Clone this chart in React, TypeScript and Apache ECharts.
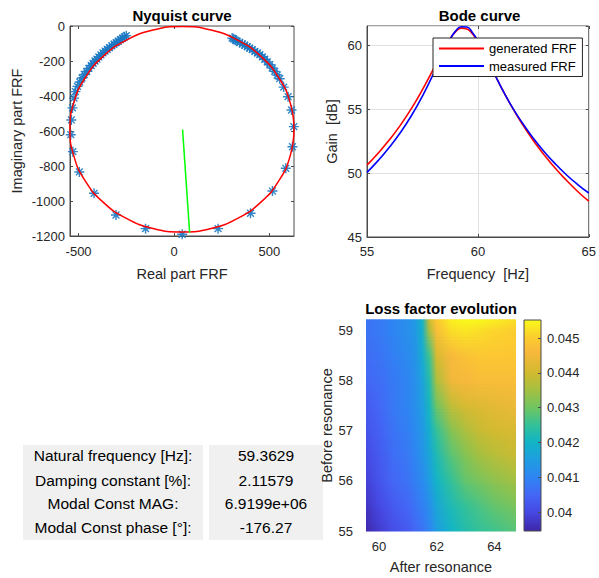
import React, { useEffect, useRef } from "react";
import * as echarts from "echarts";

const FONT = '"Liberation Sans", Arial, Helvetica, sans-serif';
const TXT = "#262626";
const BOX = "#4a4a4a";

// ---------- Nyquist ----------
const circleRe = [629, 609, 550, 457, 336, 194, 42, -110, -252, -373, -466, -525, -545, -525, -466, -373, -252, -110, 42, 194, 336, 457, 550, 609, 629];
const circleIm = [-590, -438, -297, -175, -82, -23, -3, -23, -82, -175, -297, -438, -590, -742, -884, -1005, -1098, -1157, -1177, -1157, -1098, -1005, -884, -742, -590];
const measRe = [-250, -260, -270, -281, -292, -303, -314, -326, -338, -350, -361, -372, -383, -394, -404, -414, -424, -434, -446, -458, -470, -482, -494, -506, -517,
  -524, -532, -538, -541, -530, -496, -419, -304, -149, 43, 231, 401, 516, 586, 621, 628, 616, 598, 575, 554, 541, 528, 515, 502, 489, 476, 463, 450, 437, 424, 410, 397, 384, 371, 358, 345, 330, 323, 312, 305];
const measIm = [-55, -62, -70, -78, -87, -95, -104, -113, -123, -133, -143, -154, -165, -177, -189, -200, -213, -226, -242, -259, -277, -297, -320, -345, -375,
  -412, -468, -537, -621, -718, -834, -956, -1080, -1158, -1190, -1158, -1070, -943, -813, -690, -575, -480, -404, -349, -301, -280, -259, -240, -221, -205, -190, -176, -164, -154, -145, -135, -126, -118, -110, -102, -95, -86, -82, -73, -69];
const radiusRe = [45, 82];
const radiusIm = [-592, -1181];

// ---------- Bode ----------
const freq = [55, 55.5, 56, 56.5, 57, 57.5, 58, 58.5, 58.75, 59, 59.25, 59.5, 59.75, 60, 60.5, 61, 61.5, 62, 62.5, 63, 63.5, 64, 64.5, 65];
const genGain = [50.62, 51.55, 52.58, 53.73, 55.04, 56.52, 58.15, 59.8, 60.51, 61.06, 61.33, 61.27, 60.89, 60.26, 58.62, 56.88, 55.27, 53.83, 52.54, 51.39, 50.35, 49.42, 48.56, 47.8];
const measGain = [50.05, 50.97, 52.0, 53.15, 54.48, 56.02, 57.78, 59.62, 60.47, 61.12, 61.44, 61.42, 61.0, 60.33, 58.64, 56.88, 55.3, 53.93, 52.72, 51.65, 50.7, 49.85, 49.1, 48.44];

// ---------- Loss factor map ----------
const afterX = [59.55, 60, 60.5, 61, 61.25, 61.5, 61.75, 62, 62.5, 63, 63.5, 64, 64.75];
const beforeY = [55, 55.5, 56, 56.5, 57, 57.5, 58, 58.5, 59, 59.21];
const loss55 = [0.0395, 0.0398, 0.0401, 0.0403, 0.0405, 0.0407, 0.041, 0.0415, 0.042, 0.0423, 0.0425, 0.0426, 0.0428];
const loss555 = [0.0397, 0.04, 0.0403, 0.0405, 0.0407, 0.0409, 0.0412, 0.0417, 0.0422, 0.0425, 0.0427, 0.0429, 0.0431];
const loss56 = [0.0399, 0.0402, 0.0405, 0.0407, 0.0409, 0.0411, 0.0415, 0.042, 0.0425, 0.0429, 0.0431, 0.0433, 0.0435];
const loss565 = [0.04, 0.0403, 0.0406, 0.0408, 0.041, 0.0413, 0.0417, 0.0422, 0.0428, 0.0432, 0.0435, 0.0437, 0.0439];
const loss57 = [0.0402, 0.0404, 0.0407, 0.0409, 0.0411, 0.0414, 0.0419, 0.0425, 0.0432, 0.0436, 0.0439, 0.044, 0.0441];
const loss575 = [0.0403, 0.0405, 0.0408, 0.041, 0.0412, 0.0415, 0.0421, 0.043, 0.0438, 0.0441, 0.0442, 0.0443, 0.0444];
const loss58 = [0.0405, 0.0406, 0.0408, 0.041, 0.0412, 0.0416, 0.0423, 0.0436, 0.0445, 0.0446, 0.0447, 0.0447, 0.0447];
const loss585 = [0.0406, 0.0407, 0.0409, 0.0411, 0.0413, 0.0418, 0.0426, 0.0441, 0.0446, 0.0448, 0.0449, 0.0449, 0.0449];
const loss59 = [0.0407, 0.0408, 0.041, 0.0412, 0.0414, 0.0419, 0.0436, 0.0447, 0.0452, 0.0453, 0.0452, 0.0451, 0.045];
const loss5921 = [0.0407, 0.0408, 0.041, 0.0412, 0.0414, 0.042, 0.044, 0.0449, 0.0454, 0.04552, 0.0455, 0.0454, 0.0452];
const lossRows = [loss55, loss555, loss56, loss565, loss57, loss575, loss58, loss585, loss59, loss5921];
const cbMin = 0.03946;
const cbMax = 0.04552;
const cbTicks = [0.04, 0.041, 0.042, 0.043, 0.044, 0.045];

// ---------- table ----------
const tableLabels = ["Natural frequency [Hz]:", "Damping constant [%]:", "Modal Const MAG:", "Modal Const phase [°]:"];
const tableValues = ["59.3629", "2.11579", "6.9199e+06", "-176.27"];

// parula-like colormap
const parulaT = [0, 0.09, 0.17, 0.25, 0.34, 0.42, 0.5, 0.58, 0.67, 0.75, 0.85, 0.92, 1];
const parulaC = ["#3E26A8", "#4648E4", "#4466F6", "#2F84F3", "#1E9EE0", "#12B4C6", "#32C19A", "#6DC564", "#A5C040", "#D2BA30", "#F8B83C", "#FCCE2E", "#F9F91B"];

function hexToRgb(h: string) {
  const n = parseInt(h.slice(1), 16);
  return [(n >> 16) & 255, (n >> 8) & 255, n & 255];
}
function parula(v: number) {
  let t = (v - cbMin) / (cbMax - cbMin);
  t = Math.max(0, Math.min(1, t));
  let i = 0;
  while (i < parulaT.length - 2 && t > parulaT[i + 1]) i++;
  const f = (t - parulaT[i]) / (parulaT[i + 1] - parulaT[i]);
  const a = hexToRgb(parulaC[i]);
  const b = hexToRgb(parulaC[i + 1]);
  const c = a.map((x, k) => Math.round(x + (b[k] - x) * f));
  return `rgb(${c[0]},${c[1]},${c[2]})`;
}

const ASTERISK = "path://M5 0L5 10M0 5L10 5M1.6 1.6L8.4 8.4M1.6 8.4L8.4 1.6";

export default function App() {
  const ref = useRef<HTMLDivElement>(null);
  useEffect(() => {
    if (!ref.current) return;
    const chart = echarts.init(ref.current, undefined, { renderer: "svg" });
    const hxMin = afterX[0];
    const hxMax = afterX[afterX.length - 1];

    const grad = (row: number[]) => ({
      type: "linear", x: 0, y: 0, x2: 1, y2: 0,
      colorStops: afterX.map((cx, i) => ({ offset: (cx - hxMin) / (hxMax - hxMin), color: parula(row[i]) })),
    });

    const renderHeat = (params: any, api: any) => {
      const j = api.value(0);
      const pBL = api.coord([hxMin, beforeY[j]]);
      const pTR = api.coord([hxMax, beforeY[j + 1]]);
      const x = pBL[0];
      const w = pTR[0] - pBL[0];
      const hTot = pBL[1] - pTR[1];
      const K = 8;
      const children: any[] = [];
      for (let k = 0; k < K; k++) {
        const hh = hTot / K;
        const yTop = pBL[1] - hh * (k + 1);
        const shape = { x, y: yTop - 0.4, width: w, height: hh + 0.8 };
        children.push({ type: "rect", shape, style: { fill: grad(lossRows[j]) } });
        children.push({ type: "rect", shape, style: { fill: grad(lossRows[j + 1]), opacity: (k + 0.5) / K } });
      }
      return { type: "group", children };
    };

    const renderBar = (params: any, api: any) => {
      const p0 = api.coord([0, cbMin]);
      const p1 = api.coord([1, cbMax]);
      return {
        type: "rect",
        shape: { x: p0[0], y: p1[1], width: p1[0] - p0[0], height: p0[1] - p1[1] },
        style: {
          fill: {
            type: "linear", x: 0, y: 1, x2: 0, y2: 0,
            colorStops: parulaT.map((t, i) => ({ offset: t, color: parulaC[i] })),
          },
          stroke: BOX,
          lineWidth: 1,
        },
      };
    };

    const label = { fontSize: 13, color: TXT, fontFamily: FONT };
    const nameStyle = { fontSize: 14.5, color: TXT, fontFamily: FONT };
    const line = { show: true, onZero: false, lineStyle: { color: BOX, width: 1 } };
    const noLine = { show: false, onZero: false };
    const tickIn = { show: true, inside: true, length: 3, lineStyle: { color: BOX } };
    const plain = (v: number) => String(v);

    const titles = [
      { text: "Nyquist curve", x: 182, y: 15 },
      { text: "Bode curve", x: 479.5, y: 15 },
      { text: "Loss factor evolution", x: 441, y: 308 },
    ].map((t) => ({
      type: "text", x: t.x, y: t.y,
      style: { text: t.text, fontSize: 15, fontWeight: "bold", fontFamily: FONT, fill: "#000", align: "center", verticalAlign: "middle" },
    }));

    const rowsY = [455.5, 480, 503.5, 527.5];
    const table: any[] = [
      { type: "rect", shape: { x: 23, y: 445, width: 180, height: 95 }, style: { fill: "#f0f0f0" } },
      { type: "rect", shape: { x: 209, y: 445, width: 114, height: 95 }, style: { fill: "#f0f0f0" } },
    ];
    tableLabels.forEach((s, i) => {
      table.push({ type: "text", x: 113, y: rowsY[i], style: { text: s, fontSize: 15.5, fontFamily: FONT, fill: "#000", align: "center", verticalAlign: "middle" } });
      table.push({ type: "text", x: 266, y: rowsY[i], style: { text: tableValues[i], fontSize: 15.5, fontFamily: FONT, fill: "#000", align: "center", verticalAlign: "middle" } });
    });

    chart.setOption({
      animation: false,
      backgroundColor: "#ffffff",
      textStyle: { fontFamily: FONT },
      grid: [
        { left: 70, top: 26, width: 224, height: 210, show: true, borderColor: BOX, borderWidth: 1, backgroundColor: "transparent" },
        { left: 367, top: 26, width: 225, height: 211, show: true, borderColor: BOX, borderWidth: 1, backgroundColor: "transparent" },
        { left: 366, top: 320, width: 150, height: 211 },
        { left: 524, top: 320, width: 17, height: 211 },
      ],
      xAxis: [
        {
          type: "value", gridIndex: 0, min: -545, max: 629,
          axisLine: line, axisTick: { ...tickIn, customValues: [-500, 0, 500] },
          axisLabel: { ...label, margin: 9, customValues: [-500, 0, 500], formatter: plain },
          splitLine: { show: false },
          name: "Real part FRF", nameLocation: "middle", nameGap: 30, nameTextStyle: nameStyle,
        },
        {
          type: "value", gridIndex: 0, position: "top", min: -545, max: 629,
          axisLine: noLine, axisTick: { ...tickIn, customValues: [-500, 0, 500] },
          axisLabel: { show: false }, splitLine: { show: false },
        },
        {
          type: "value", gridIndex: 1, min: 55, max: 65, interval: 5,
          axisLine: line, axisTick: tickIn, axisLabel: { ...label, margin: 8, formatter: plain },
          splitLine: { show: true, lineStyle: { color: "#e1e1e1", width: 1 } },
          name: "Frequency  [Hz]", nameLocation: "middle", nameGap: 29, nameTextStyle: nameStyle,
        },
        {
          type: "value", gridIndex: 1, position: "top", min: 55, max: 65, interval: 5,
          axisLine: noLine, axisTick: tickIn, axisLabel: { show: false }, splitLine: { show: false },
        },
        {
          type: "value", gridIndex: 2, min: hxMin, max: hxMax,
          axisLine: noLine, axisTick: { show: false },
          axisLabel: { ...label, margin: 9, customValues: [60, 62, 64], formatter: plain },
          splitLine: { show: false },
          name: "After resonance", nameLocation: "middle", nameGap: 28.5, nameTextStyle: nameStyle,
        },
        { type: "value", gridIndex: 3, min: 0, max: 1, show: false },
      ],
      yAxis: [
        {
          type: "value", gridIndex: 0, min: -1200, max: 0, interval: 200,
          axisLine: line, axisTick: tickIn, axisLabel: { ...label, margin: 5, formatter: plain }, splitLine: { show: false },
          name: "Imaginary part FRF", nameLocation: "middle", nameGap: 45.5, nameTextStyle: nameStyle,
        },
        {
          type: "value", gridIndex: 0, position: "right", min: -1200, max: 0, interval: 200,
          axisLine: noLine, axisTick: tickIn, axisLabel: { show: false }, splitLine: { show: false },
        },
        {
          type: "value", gridIndex: 1, min: 45, max: 61.5, interval: 5,
          axisLine: line, axisTick: tickIn, axisLabel: { ...label, margin: 5, showMaxLabel: false, formatter: plain },
          splitLine: { show: true, lineStyle: { color: "#e1e1e1", width: 1 } },
          name: "Gain  [dB]", nameLocation: "middle", nameGap: 28, nameTextStyle: nameStyle,
        },
        {
          type: "value", gridIndex: 1, position: "right", min: 45, max: 61.5, interval: 5,
          axisLine: noLine, axisTick: tickIn, axisLabel: { show: false }, splitLine: { show: false },
        },
        {
          type: "value", gridIndex: 2, min: 55, max: 59.21, interval: 1,
          axisLine: noLine, axisTick: { show: false },
          axisLabel: { ...label, margin: 13, showMaxLabel: false, formatter: plain }, splitLine: { show: false },
          name: "Before resonance", nameLocation: "middle", nameGap: 25.5, nameTextStyle: nameStyle,
        },
        {
          type: "value", gridIndex: 3, position: "right", min: cbMin, max: cbMax, z: 10,
          axisLine: noLine,
          axisTick: { show: true, inside: true, length: 3, lineStyle: { color: BOX }, customValues: cbTicks },
          axisLabel: { ...label, margin: 6, customValues: cbTicks, formatter: (v: number) => String(+v.toFixed(3)) },
          splitLine: { show: false },
        },
      ],
      legend: {
        data: ["generated FRF", "measured FRF"],
        orient: "vertical", left: 433, top: 38,
        padding: [2.5, 6, 2.5, 6], itemGap: 1.5, itemWidth: 45, itemHeight: 2, icon: "rect",
        backgroundColor: "#ffffff", borderColor: TXT, borderWidth: 1, borderRadius: 0,
        selectedMode: false,
        textStyle: { fontSize: 13, color: "#000", fontFamily: FONT, lineHeight: 16 },
      },
      series: [
        {
          name: "measured points", type: "scatter", xAxisIndex: 0, yAxisIndex: 0,
          data: measRe.map((r, i) => [r, measIm[i]]),
          symbol: ASTERISK, symbolSize: 10,
          itemStyle: { color: "#1a78c2", borderColor: "#1a78c2", borderWidth: 1.4, opacity: 0.9 },
          z: 2,
        },
        {
          name: "fitted circle", type: "line", xAxisIndex: 0, yAxisIndex: 0,
          data: circleRe.map((r, i) => [r, circleIm[i]]),
          smooth: true, symbol: "none", lineStyle: { color: "#ff0000", width: 1.5 }, z: 3,
        },
        {
          name: "radius", type: "line", xAxisIndex: 0, yAxisIndex: 0,
          data: radiusRe.map((r, i) => [r, radiusIm[i]]),
          symbol: "none", lineStyle: { color: "#00ff00", width: 1.5 }, z: 4,
        },
        {
          name: "generated FRF", type: "line", xAxisIndex: 2, yAxisIndex: 2,
          data: freq.map((f, i) => [f, genGain[i]]),
          smooth: true, symbol: "none", color: "#ff0000",
          itemStyle: { color: "#ff0000" }, lineStyle: { color: "#ff0000", width: 1.6 },
        },
        {
          name: "measured FRF", type: "line", xAxisIndex: 2, yAxisIndex: 2,
          data: freq.map((f, i) => [f, measGain[i]]),
          smooth: true, symbol: "none", color: "#0000ff",
          itemStyle: { color: "#0000ff" }, lineStyle: { color: "#0000ff", width: 1.6 },
        },
        {
          name: "loss factor", type: "custom", xAxisIndex: 4, yAxisIndex: 4,
          data: beforeY.slice(0, -1).map((y, j) => [j, hxMin, y]),
          encode: { x: 1, y: 2 },
          renderItem: renderHeat,
        },
        {
          name: "colorbar", type: "custom", xAxisIndex: 5, yAxisIndex: 5,
          data: [[0, 0, cbMin]],
          encode: { x: 1, y: 2 },
          renderItem: renderBar,
        },
      ],
      graphic: [...titles, ...table],
    });
    return () => chart.dispose();
  }, []);
  return <div ref={ref} style={{ position: "absolute", left: 0, top: 0, width: 599, height: 578, background: "#fff" }} />;
}
